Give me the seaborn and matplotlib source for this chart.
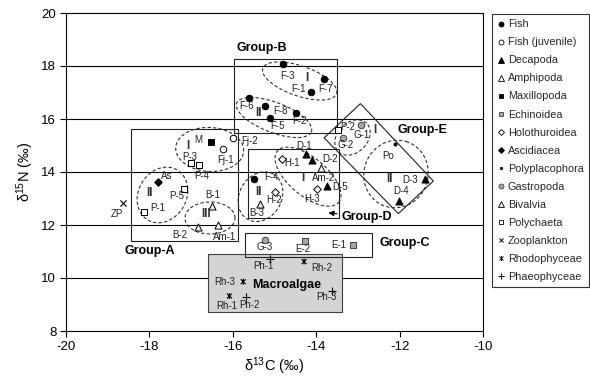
import numpy as np
import pandas as pd
import matplotlib
matplotlib.use("Agg")
import matplotlib.pyplot as plt
from matplotlib.path import Path
from matplotlib.lines import Line2D
from matplotlib.patches import Rectangle, Polygon
import seaborn as sns

sns.set_theme(style="white")
plt.rcParams['font.family'] = ['Liberation Sans', 'DejaVu Sans']
plt.rcParams['mathtext.default'] = 'regular'

# ---------------- data ----------------
taxa = ["Fish", "Fish (juvenile)", "Decapoda", "Amphipoda", "Maxillopoda",
        "Echinoidea", "Holothuroidea", "Ascidiacea", "Polyplacophora",
        "Gastropoda", "Bivalvia", "Polychaeta", "Zooplankton",
        "Rhodophyceae", "Phaeophyceae"]

sample_ids = ["F-1", "F-2", "F-3", "F-4", "F-5", "F-6", "F-7", "F-8",
              "Fj-1", "Fj-2",
              "D-1", "D-2", "D-3", "D-4", "D-5",
              "Am-1", "Am-2",
              "M",
              "E-1", "E-2",
              "H-1", "H-2", "H-3",
              "As",
              "Po",
              "G-1", "G-2", "G-3",
              "B-1", "B-2", "B-3",
              "P-1", "P-2", "P-3", "P-4", "P-5",
              "ZP",
              "Rh-1", "Rh-2", "Rh-3",
              "Ph-1", "Ph-2", "Ph-3"]

sample_taxa = (["Fish"] * 8 + ["Fish (juvenile)"] * 2 + ["Decapoda"] * 5 +
               ["Amphipoda"] * 2 + ["Maxillopoda"] + ["Echinoidea"] * 2 +
               ["Holothuroidea"] * 3 + ["Ascidiacea"] + ["Polyplacophora"] +
               ["Gastropoda"] * 3 + ["Bivalvia"] * 3 + ["Polychaeta"] * 5 +
               ["Zooplankton"] + ["Rhodophyceae"] * 3 + ["Phaeophyceae"] * 3)

d13C = [-14.12, -14.49, -14.80, -15.48, -15.11, -15.60, -13.81, -15.22,
        -16.24, -16.00,
        -14.24, -14.11, -11.39, -12.01, -13.75,
        -16.36, -13.88,
        -16.53,
        -13.11, -14.27,
        -14.83, -15.00, -13.97,
        -17.79,
        -12.11,
        -12.93, -13.35, -15.23,
        -16.49, -16.83, -15.35,
        -18.12, -13.47, -17.00, -16.81, -17.16,
        -18.63,
        -16.08, -14.29, -15.75,
        -15.11, -15.68, -13.63]

d15N = [17.02, 16.21, 18.06, 13.74, 16.03, 16.80, 17.52, 16.50,
        14.88, 15.29,
        14.67, 14.45, 13.74, 12.92, 13.47,
        12.00, 14.16,
        15.12,
        11.25, 11.40,
        14.49, 13.26, 13.35,
        13.63,
        15.05,
        15.77, 15.29, 11.43,
        12.72, 11.91, 12.79,
        12.49, 15.58, 14.35, 14.25, 13.35,
        12.82,
        9.32, 10.62, 9.86,
        10.71, 9.27, 9.51]

x_ticks = [-20, -18, -16, -14, -12, -10]
y_ticks = [8, 10, 12, 14, 16, 18, 20]

df = pd.DataFrame({"id": sample_ids, "taxon": sample_taxa, "C": d13C, "N": d15N})

# ---------------- styles ----------------
star_path = Path([(-1, -1), (1, 1), (-1, 1), (1, -1), (0, -1.2), (0, 1.2)],
                 [Path.MOVETO, Path.LINETO, Path.MOVETO, Path.LINETO,
                  Path.MOVETO, Path.LINETO])

styles = {
    "Fish": dict(marker="o", fc="black", ec="black", s=22, ms=4.2),
    "Fish (juvenile)": dict(marker="o", fc="white", ec="black", s=22, ms=4.2),
    "Decapoda": dict(marker="^", fc="black", ec="black", s=26, ms=4.4),
    "Amphipoda": dict(marker="^", fc="white", ec="black", s=26, ms=4.4),
    "Maxillopoda": dict(marker="s", fc="black", ec="black", s=22, ms=4.2),
    "Echinoidea": dict(marker="s", fc="#a6a6a6", ec="#404040", s=22, ms=4.2),
    "Holothuroidea": dict(marker="D", fc="white", ec="black", s=15, ms=3.6),
    "Ascidiacea": dict(marker="D", fc="black", ec="black", s=15, ms=3.6),
    "Polyplacophora": dict(marker="o", fc="black", ec="black", s=5, ms=2.0),
    "Gastropoda": dict(marker="o", fc="#a6a6a6", ec="#404040", s=22, ms=4.2),
    "Bivalvia": dict(marker="^", fc="#ececec", ec="black", s=26, ms=4.4),
    "Polychaeta": dict(marker="s", fc="white", ec="black", s=22, ms=4.2),
    "Zooplankton": dict(marker="x", fc="black", ec="black", s=20, ms=4.2),
    "Rhodophyceae": dict(marker=star_path, fc="none", ec="black", s=18, ms=4.2),
    "Phaeophyceae": dict(marker="+", fc="black", ec="black", s=26, ms=4.6),
}

# label offsets (pixels) for the sample labels
label_offsets = {
    "F-1": (-13, 3), "F-2": (4, -8), "F-3": (5, -12), "F-4": (17, 2),
    "F-5": (8, -8), "F-6": (-3, -8), "F-7": (1, -10), "F-8": (15, -5),
    "Fj-1": (3, -11), "Fj-2": (17, -3),
    "D-1": (-2, 8), "D-2": (18, 1), "D-3": (-15, -1), "D-4": (2, 10),
    "D-5": (13, -1),
    "Am-1": (7, -12), "Am-2": (2, -10),
    "M": (-12, 2),
    "E-1": (-15, 0), "E-2": (-2, -8),
    "H-1": (10, -4), "H-2": (0, -8), "H-3": (-5, -10),
    "As": (9, 6),
    "Po": (-7, -12),
    "G-1": (1, -10), "G-2": (2, -7), "G-3": (0, -7),
    "B-1": (0, 11), "B-2": (-18, -8), "B-3": (-3, -9),
    "P-1": (13, 4), "P-2": (9, 3), "P-3": (-1, 6), "P-4": (3, -11),
    "P-5": (-8, -7),
    "ZP": (-6, -11),
    "Rh-1": (-3, -10), "Rh-2": (18, -6), "Rh-3": (-18, 0),
    "Ph-1": (-6, -7), "Ph-2": (3, -8), "Ph-3": (-5, -6),
}

# ---------------- figure ----------------
W, H = 590, 378
fig = plt.figure(figsize=(W / 100, H / 100), dpi=100)
ax = fig.add_axes([66 / W, 47 / H, 417 / W, 318 / H])
ax.set_xlim(-20, -10)
ax.set_ylim(8, 20)
ax.set_xticks(x_ticks)
ax.set_yticks(y_ticks)
ax.set_xticklabels([str(t) for t in x_ticks])
ax.set_yticklabels([str(t) for t in y_ticks])
ax.tick_params(axis="both", direction="out", length=4, width=0.8,
               colors="black", labelsize=9.5, pad=3)
ax.tick_params(axis="x", bottom=True)
ax.tick_params(axis="y", left=True)
for sp in ax.spines.values():
    sp.set_color("black")
    sp.set_linewidth(0.8)
for yv in y_ticks[1:-1]:
    ax.axhline(yv, color="black", lw=0.8, zorder=0.5)

sx = 417 / 10.0   # pixels per data unit (x)
sy = 318 / 12.0   # pixels per data unit (y)

# group rectangles (x0, x1, y0, y1)
boxes = {
    "A": (-18.45, -15.87, 11.41, 15.62),
    "B": (-15.97, -13.51, 15.47, 18.26),
    "C": (-15.71, -12.66, 10.80, 11.69),
    "D": (-15.64, -13.45, 12.26, 14.86),
}
macro_box = (-16.59, -13.37, 8.71, 10.89)
ax.add_patch(Rectangle((macro_box[0], macro_box[2]), macro_box[1] - macro_box[0],
                       macro_box[3] - macro_box[2], facecolor="#d4d4d4",
                       edgecolor="#404040", lw=0.8, zorder=1))
for k, (x0, x1, y0, y1) in boxes.items():
    ax.add_patch(Rectangle((x0, y0), x1 - x0, y1 - y0, fill=False,
                           edgecolor="#202020", lw=0.8, zorder=1.5))
groupE = [(-12.94, 16.58), (-11.19, 13.66), (-12.03, 12.43), (-13.81, 15.29)]
ax.add_patch(Polygon(groupE, closed=True, fill=False, edgecolor="#202020",
                     lw=0.8, zorder=1.5))

# dashed ellipses: center (data), semi-axes (px), angle (deg)
ellipses = [
    (-16.554, 14.85, 34, 22, -3),
    (-17.686, 13.132, 29, 24, 60),
    (-16.547, 12.264, 25, 16, 0),
    (-14.396, 17.434, 39, 15, -19),
    (-15.012, 16.057, 40, 15, -21),
    (-14.197, 13.823, 40, 19, -40),
    (-15.336, 13.068, 26, 21, 60),
    (-13.129, 15.302, 20, 15, 45),
    (-12.086, 13.925, 34, 32, 70),
]
t = np.linspace(0, 2 * np.pi, 200)
for cx, cy, a, b, ang in ellipses:
    th = np.deg2rad(ang)
    dx = a * np.cos(t) * np.cos(th) - b * np.sin(t) * np.sin(th)
    dy = a * np.cos(t) * np.sin(th) + b * np.sin(t) * np.cos(th)
    ax.plot(cx + dx / sx, cy + dy / sy, color="#303030", lw=0.8,
            linestyle=(0, (3, 2)), zorder=1.6)

# points
for tx in taxa:
    st = styles[tx]
    sub = df[df["taxon"] == tx]
    lw = 0.8 if tx in ("Zooplankton", "Rhodophyceae", "Phaeophyceae") else 0.7
    if tx in ("Zooplankton", "Phaeophyceae"):
        sns.scatterplot(data=sub, x="C", y="N", marker=st["marker"], s=st["s"],
                        color="black", linewidth=lw, ax=ax, zorder=3,
                        legend=False)
    else:
        sns.scatterplot(data=sub, x="C", y="N", marker=st["marker"], s=st["s"],
                        facecolor=st["fc"], edgecolor=st["ec"], linewidth=lw,
                        ax=ax, zorder=3, legend=False)
ax.set_xlabel("δ$^{13}$C (‰)", fontsize=10.5, color="black", labelpad=2)
ax.set_ylabel("δ$^{15}$N (‰)", fontsize=10.5, color="black", labelpad=4)

# sample labels
for sid, xv, yv in zip(sample_ids, d13C, d15N):
    ox, oy = label_offsets[sid]
    ax.annotate(sid, (xv, yv), xytext=(ox, oy), textcoords="offset pixels",
                ha="center", va="center", fontsize=7, color="#202020",
                zorder=4)

# roman numerals
romans = [("I", -17.07, 14.98), ("II", -17.99, 13.22), ("III", -16.63, 12.42),
          ("I", -14.23, 17.54), ("II", -15.39, 16.24),
          ("I", -14.32, 13.76), ("II", -15.39, 13.26),
          ("I", -12.59, 15.58), ("II", -12.25, 13.74)]
for txt, xv, yv in romans:
    ax.text(xv, yv, txt, ha="center", va="center", fontsize=8.5,
            fontweight="bold", color="#303030", zorder=4)

# group labels
glabels = [("Group-A", -17.99, 11.03), ("Group-B", -15.30, 18.68),
           ("Group-C", -11.87, 11.32), ("Group-E", -11.46, 15.58),
           ("Macroalgae", -14.71, 9.74)]
for txt, xv, yv in glabels:
    ax.text(xv, yv, txt, ha="center", va="center", fontsize=9,
            fontweight="bold", color="black", zorder=4)
ax.annotate("Group-D", xy=(-13.71, 12.46), xytext=(-12.78, 12.30),
            ha="center", va="center", fontsize=9, fontweight="bold",
            color="black", zorder=4,
            arrowprops=dict(arrowstyle="-|>", color="black", lw=0.8,
                            mutation_scale=8, shrinkA=1, shrinkB=0))

# legend
handles = []
for tx in taxa:
    st = styles[tx]
    if tx in ("Zooplankton", "Phaeophyceae"):
        h = Line2D([], [], linestyle="none", marker=st["marker"],
                   markersize=st["ms"] * 0.85, color="black",
                   markeredgewidth=0.7)
    else:
        h = Line2D([], [], linestyle="none", marker=st["marker"],
                   markersize=st["ms"] * 0.85, markerfacecolor=st["fc"],
                   markeredgecolor=st["ec"], markeredgewidth=0.6)
    handles.append(h)
leg = fig.legend(handles, taxa, loc="upper left",
                 bbox_to_anchor=(492 / W, 1 - 14 / H),
                 bbox_transform=fig.transFigure, borderaxespad=0,
                 fontsize=7.8, frameon=True, fancybox=False,
                 edgecolor="black", handlelength=0.6, handletextpad=0.35,
                 labelspacing=0.74, borderpad=0.5)
leg.get_frame().set_linewidth(0.8)

fig.savefig("out.png", dpi=100)
